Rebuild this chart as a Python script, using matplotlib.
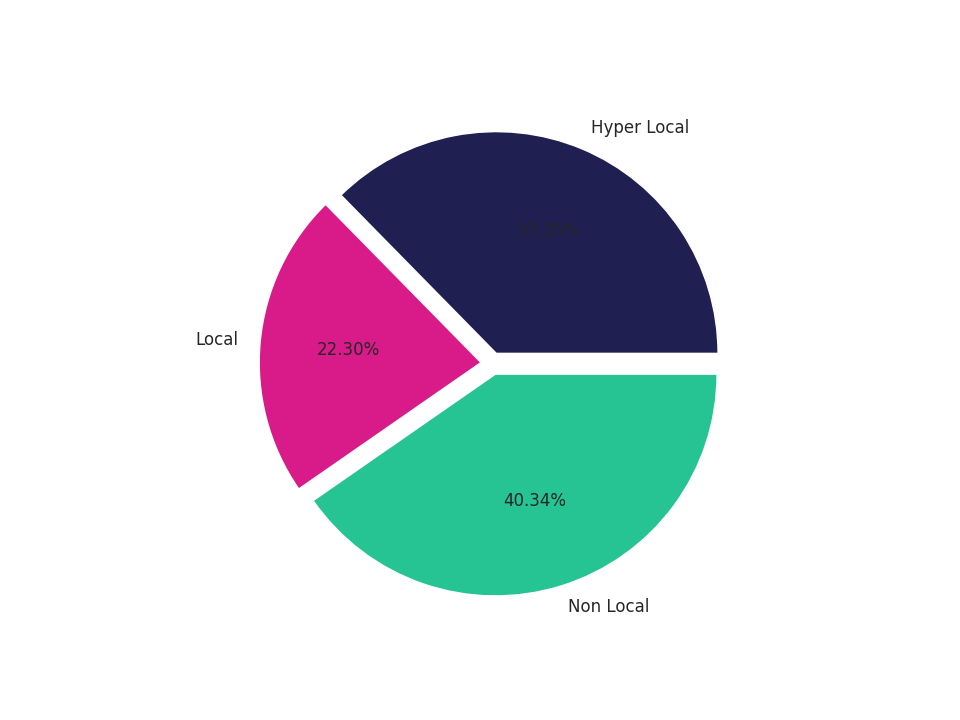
import matplotlib
matplotlib.use("Agg")
import matplotlib.pyplot as plt
import seaborn as sns

# share of stores by delivery reach
labels = ["Hyper Local", "Local", "Non Local"]
shares = [37.35, 22.30, 40.34]
colors = ["#1f1f52", "#d81b88", "#26c493"]
explode = [0.05, 0.05, 0.05]

sns.set_theme()

fig = plt.figure(figsize=(9.6, 7.2), dpi=100)
plt.pie(shares, labels=labels, colors=colors, explode=explode, autopct="%.2f%%",
        textprops={"fontsize": 12}, wedgeprops={"edgecolor": "white", "linewidth": 1})

fig.savefig("out.png", dpi=100)
